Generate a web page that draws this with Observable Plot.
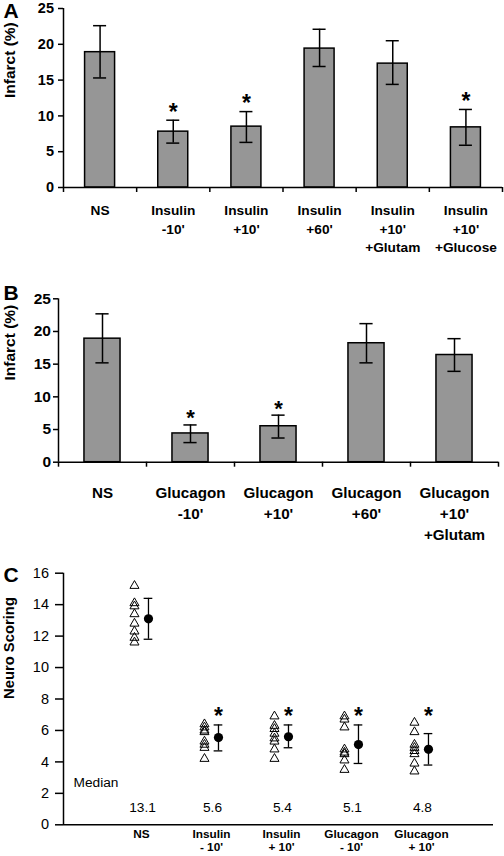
<!DOCTYPE html>
<html><head><meta charset="utf-8">
<script src="https://cdn.jsdelivr.net/npm/d3@7"></script>
<script src="https://cdn.jsdelivr.net/npm/@observablehq/plot@0.6"></script>
<style>
body{margin:0;background:#fff;}
#fig{position:relative;width:504px;height:856px;overflow:hidden;background:#fff;}
#fig > div{position:absolute;left:0;}
svg{overflow:visible;}
</style></head><body>
<div id="fig"><div id="pa" style="top:0px"></div><div id="pb" style="top:265px"></div><div id="pc" style="top:555px"></div></div>
<script>
// ---------- Panel A ----------
const catsA = ["NS", "Insulin\n-10'", "Insulin\n+10'", "Insulin\n+60'", "Insulin\n+10'\n+Glutam", "Insulin\n+10'\n+Glucose"];
const meanA = [18.9, 7.8, 8.5, 19.4, 17.3, 8.4];
const loA   = [15.3, 6.2, 6.3, 16.9, 14.4, 5.9];
const hiA   = [22.6, 9.4, 10.6, 22.1, 20.5, 10.9];
const sigA  = [false, true, true, false, false, true];
const yTicksA = [0, 5, 10, 15, 20, 25];

// ---------- Panel B ----------
const catsB = ["NS", "Glucagon\n-10'", "Glucagon\n+10'", "Glucagon\n+60'", "Glucagon\n+10'\n+Glutam"];
const meanB = [18.9, 4.4, 5.5, 18.2, 16.4];
const loB   = [15.2, 3.0, 3.7, 15.2, 13.9];
const hiB   = [22.7, 5.7, 7.2, 21.2, 18.9];
const sigB  = [false, true, true, false, false];
const yTicksB = [0, 5, 10, 15, 20, 25];

// ---------- Panel C ----------
const catsC = ["NS", "Insulin\n- 10'", "Insulin\n+ 10'", "Glucagon\n- 10'", "Glucagon\n+ 10'"];
const scoresNS      = [15.2, 14.1, 13.9, 13.4, 12.8, 12.3, 11.9, 11.6];
const scoresInsM10  = [6.4, 6.2, 6.0, 5.9, 5.3, 5.1, 4.9, 4.2];
const scoresInsP10  = [6.9, 6.3, 6.1, 5.8, 5.5, 5.3, 4.8, 4.2];
const scoresGluM10  = [6.9, 6.7, 6.2, 4.8, 4.6, 4.5, 4.1, 3.5];
const scoresGluP10  = [6.5, 5.9, 5.1, 4.9, 4.7, 4.5, 3.9, 3.4];
const centerC = [13.1, 5.55, 5.6, 5.1, 4.8];
const loC     = [11.8, 4.7, 4.9, 3.9, 3.8];
const hiC     = [14.4, 6.35, 6.35, 6.35, 5.8];
const medianC = ["13.1", "5.6", "5.4", "5.1", "4.8"];
const sigC    = [false, true, true, true, true];
const yTicksC = [0, 2, 4, 6, 8, 10, 12, 14, 16];

const FONT = "'Liberation Sans', Arial, Helvetica, sans-serif";

function barPanel(cfg) {
  const {cats, mean, lo, hi, sig, ticks, letter, ylabel, width, height,
         marginLeft, marginRight, marginTop, marginBottom,
         barHalf, capHalf, tickFont, tickPad, labFont, labDy, labLH,
         starDy, starFont, letterDx, letterDy, ylabDx} = cfg;
  const n = cats.length;
  const rows = cats.map((c, i) => ({i, c, m: mean[i], lo: lo[i], hi: hi[i], s: sig[i]}));
  const bounds = d3.range(n + 1).map(k => k - 0.5);
  const ymax = ticks[ticks.length - 1];
  return Plot.plot({
    width, height, marginLeft, marginRight, marginTop, marginBottom,
    style: {fontFamily: FONT, background: "white", color: "black", overflow: "visible"},
    x: {type: "linear", domain: [-0.5, n - 0.5]},
    y: {domain: [0, ymax]},
    marks: [
      Plot.rectY(rows, {x1: d => d.i - barHalf, x2: d => d.i + barHalf, y1: 0, y2: "m",
        fill: "#969696", stroke: "black", strokeWidth: 1.5}),
      Plot.ruleX(rows, {x: "i", y1: "lo", y2: "hi", stroke: "black", strokeWidth: 1.5}),
      Plot.ruleY(rows, {x1: d => d.i - capHalf, x2: d => d.i + capHalf, y: "lo", stroke: "black", strokeWidth: 1.5}),
      Plot.ruleY(rows, {x1: d => d.i - capHalf, x2: d => d.i + capHalf, y: "hi", stroke: "black", strokeWidth: 1.5}),
      Plot.text(rows.filter(d => d.s), {x: "i", y: "hi", text: () => "*", dy: starDy,
        fontSize: starFont, fontWeight: "bold"}),
      Plot.ruleX([-0.5], {y1: 0, y2: ymax, stroke: "black", strokeWidth: 1.5}),
      Plot.ruleY([0], {x1: -0.5, x2: n - 0.5, stroke: "black", strokeWidth: 1.5}),
      Plot.axisX({ticks: bounds, tickSize: 5, tickFormat: () => "", strokeWidth: 1.5, label: null}),
      Plot.axisY({ticks, tickSize: 5, tickPadding: tickPad, fontSize: tickFont, fontWeight: "bold",
        strokeWidth: 1.5, label: null}),
      Plot.text(rows, {x: "i", y: 0, text: "c", dy: labDy, lineAnchor: "top", lineHeight: labLH,
        fontSize: labFont, fontWeight: "bold"}),
      Plot.text([ylabel], {frameAnchor: "left", rotate: -90, dx: ylabDx, fontSize: 15.5, fontWeight: "bold"}),
      Plot.text([letter], {frameAnchor: "top-left", dx: letterDx, dy: letterDy, textAnchor: "start",
        lineAnchor: "top", fontSize: 21, fontWeight: "bold"})
    ]
  });
}

document.getElementById("pa").append(barPanel({
  cats: catsA, mean: meanA, lo: loA, hi: hiA, sig: sigA, ticks: yTicksA, letter: "A", ylabel: "Infarct (%)",
  width: 504, height: 265, marginLeft: 63, marginRight: 2, marginTop: 8, marginBottom: 78,
  barHalf: 0.205, capHalf: 0.089, tickFont: 14.5, tickPad: 4.5, labFont: 13.7, labDy: 14.7, labLH: 1.34,
  starDy: -7.5, starFont: 23, letterDx: -60, letterDy: -5, ylabDx: -53
}));

document.getElementById("pb").append(barPanel({
  cats: catsB, mean: meanB, lo: loB, hi: hiB, sig: sigB, ticks: yTicksB, letter: "B", ylabel: "Infarct (%)",
  width: 504, height: 290, marginLeft: 58, marginRight: 6, marginTop: 33.3, marginBottom: 93.3,
  barHalf: 0.205, capHalf: 0.075, tickFont: 15.5, tickPad: 2.5, labFont: 15.2, labDy: 21.6, labLH: 1.36,
  starDy: -6.5, starFont: 22, letterDx: -55, letterDy: -13.3, ylabDx: -48
}));

// Panel C
const rowsC = catsC.map((c, i) => ({i, c, m: centerC[i], lo: loC[i], hi: hiC[i], s: sigC[i], med: medianC[i]}));
const allScores = [scoresNS, scoresInsM10, scoresInsP10, scoresGluM10, scoresGluP10];
const ptsC = allScores.flatMap((arr, i) => arr.map(v => ({i, v})));
const ymaxC = yTicksC[yTicksC.length - 1];

document.getElementById("pc").append(Plot.plot({
  width: 504, height: 301, marginLeft: 63, marginRight: 11, marginTop: 17.7, marginBottom: 31.7,
  style: {fontFamily: FONT, background: "white", color: "black", overflow: "visible"},
  x: {type: "linear", domain: [-1.114, 5.029], axis: null},
  y: {domain: [0, ymaxC]},
  marks: [
    Plot.ruleX([-1.114], {y1: 0, y2: ymaxC, stroke: "black", strokeWidth: 1.5}),
    Plot.ruleY([0], {stroke: "black", strokeWidth: 1.5}),
    Plot.axisY({ticks: yTicksC, tickSize: 8, tickPadding: 6.5, fontSize: 14.5, strokeWidth: 1.5, label: null}),
    Plot.dot(ptsC, {x: "i", y: "v", symbol: "triangle", r: 3.35, fill: "none", stroke: "black", strokeWidth: 1, dx: -7}),
    Plot.ruleX(rowsC, {x: "i", y1: "lo", y2: "hi", stroke: "black", strokeWidth: 1.3, dx: 7}),
    Plot.ruleY(rowsC, {x1: d => d.i - 0.062, x2: d => d.i + 0.062, y: "lo", stroke: "black", strokeWidth: 1.3, dx: 7}),
    Plot.ruleY(rowsC, {x1: d => d.i - 0.062, x2: d => d.i + 0.062, y: "hi", stroke: "black", strokeWidth: 1.3, dx: 7}),
    Plot.dot(rowsC, {x: "i", y: "m", r: 4.6, fill: "black", dx: 7}),
    Plot.text(rowsC.filter(d => d.s), {x: "i", y: 6.85, text: () => "*", dx: 7, fontSize: 23, fontWeight: "bold"}),
    Plot.text(["Median"], {frameAnchor: "left", y: 2.7, dx: 10, textAnchor: "start", fontSize: 13.7}),
    Plot.text(rowsC, {x: "i", y: 1.1, text: "med", dx: 1, fontSize: 13.7}),
    Plot.text(rowsC, {x: "i", y: 0, text: "c", dy: 4.5, lineAnchor: "top", lineHeight: 1.08, fontSize: 11.8, fontWeight: "bold"}),
    Plot.text(["Neuro Scoring"], {frameAnchor: "left", rotate: -90, dx: -54, fontSize: 14.8, fontWeight: "bold"}),
    Plot.text(["C"], {frameAnchor: "top-left", dx: -60, dy: -5.7, textAnchor: "start", lineAnchor: "top", fontSize: 21, fontWeight: "bold"})
  ]
}));
</script>
</body></html>
